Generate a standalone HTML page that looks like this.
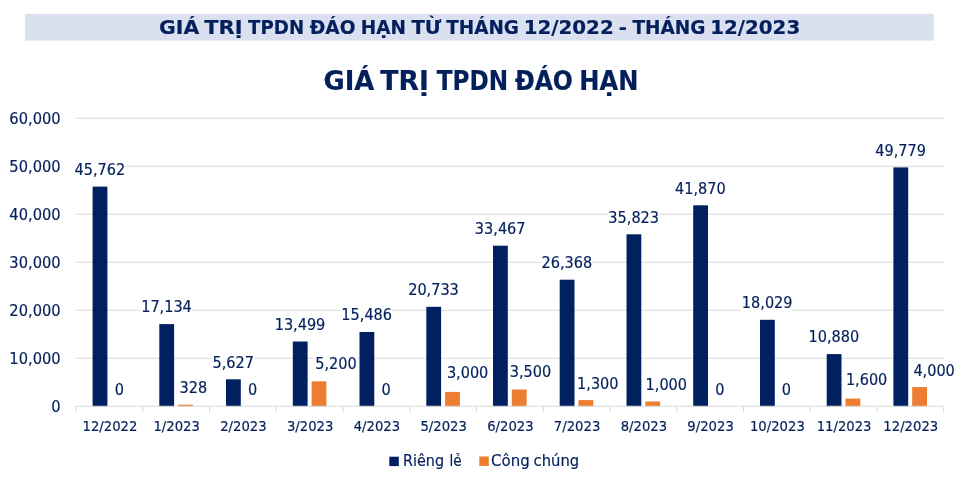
<!DOCTYPE html>
<html lang="vi">
<head>
<meta charset="utf-8">
<title>Giá trị TPDN đáo hạn</title>
<style>
html,body{margin:0;padding:0;background:#fff;}
body{width:965px;height:484px;overflow:hidden;}
svg{display:block;will-change:transform;}
text{font-family:"DejaVu Sans Condensed", "Liberation Sans", sans-serif;fill:#04205c;stroke:#04205c;stroke-width:0.18px;}
.b{font-weight:bold;stroke-width:0.3px;}
</style>
</head>
<body>
<svg width="965" height="484" viewBox="0 0 965 484">
<rect x="0" y="0" width="965" height="484" fill="#ffffff"/>
<rect x="24.9" y="13.9" width="909" height="26.7" fill="#dbe0f0"/>
<g class="b" font-size="19.5">
<text x="159.1" y="33.8" textLength="40.2" lengthAdjust="spacingAndGlyphs">GIÁ</text>
<text x="204.3" y="33.8" textLength="38.3" lengthAdjust="spacingAndGlyphs">TRỊ</text>
<text x="248.1" y="33.8" textLength="56.0" lengthAdjust="spacingAndGlyphs">TPDN</text>
<text x="309.8" y="33.8" textLength="45.7" lengthAdjust="spacingAndGlyphs">ĐÁO</text>
<text x="360.8" y="33.8" textLength="45.2" lengthAdjust="spacingAndGlyphs">HẠN</text>
<text x="411.4" y="33.8" textLength="29.8" lengthAdjust="spacingAndGlyphs">TỪ</text>
<text x="446.2" y="33.8" textLength="72.7" lengthAdjust="spacingAndGlyphs">THÁNG</text>
<text x="523.7" y="33.8" textLength="90.0" lengthAdjust="spacingAndGlyphs">12/2022</text>
<text x="618.8" y="33.8" textLength="8.2" lengthAdjust="spacingAndGlyphs">-</text>
<text x="632.5" y="33.8" textLength="73.0" lengthAdjust="spacingAndGlyphs">THÁNG</text>
<text x="710.2" y="33.8" textLength="90.0" lengthAdjust="spacingAndGlyphs">12/2023</text>
</g>
<g class="b" font-size="25.7">
<text x="323.4" y="89.8" textLength="50.9" lengthAdjust="spacingAndGlyphs">GIÁ</text>
<text x="380.3" y="89.8" textLength="48.5" lengthAdjust="spacingAndGlyphs">TRỊ</text>
<text x="436.8" y="89.8" textLength="71.4" lengthAdjust="spacingAndGlyphs">TPDN</text>
<text x="514.9" y="89.8" textLength="58.0" lengthAdjust="spacingAndGlyphs">ĐÁO</text>
<text x="579.3" y="89.8" textLength="59.1" lengthAdjust="spacingAndGlyphs">HẠN</text>
</g>
<line x1="76.1" y1="358.3" x2="943.7" y2="358.3" stroke="#d9d9d9" stroke-width="1.1"/>
<line x1="76.1" y1="310.3" x2="943.7" y2="310.3" stroke="#d9d9d9" stroke-width="1.1"/>
<line x1="76.1" y1="262.3" x2="943.7" y2="262.3" stroke="#d9d9d9" stroke-width="1.1"/>
<line x1="76.1" y1="214.3" x2="943.7" y2="214.3" stroke="#d9d9d9" stroke-width="1.1"/>
<line x1="76.1" y1="166.3" x2="943.7" y2="166.3" stroke="#d9d9d9" stroke-width="1.1"/>
<line x1="76.1" y1="118.3" x2="943.7" y2="118.3" stroke="#d9d9d9" stroke-width="1.1"/>
<text x="60.6" y="412.2" font-size="16.3" text-anchor="end">0</text>
<text x="60.6" y="364.2" font-size="16.3" text-anchor="end">10,000</text>
<text x="60.6" y="316.2" font-size="16.3" text-anchor="end">20,000</text>
<text x="60.6" y="268.2" font-size="16.3" text-anchor="end">30,000</text>
<text x="60.6" y="220.2" font-size="16.3" text-anchor="end">40,000</text>
<text x="60.6" y="172.2" font-size="16.3" text-anchor="end">50,000</text>
<text x="60.6" y="124.2" font-size="16.3" text-anchor="end">60,000</text>
<rect x="92.6" y="186.6" width="14.8" height="219.7" fill="#002060"/>
<rect x="159.3" y="324.1" width="14.8" height="82.2" fill="#002060"/>
<rect x="178.1" y="404.7" width="14.8" height="1.6" fill="#ed7d31"/>
<rect x="226.0" y="379.3" width="14.8" height="27.0" fill="#002060"/>
<rect x="292.8" y="341.5" width="14.8" height="64.8" fill="#002060"/>
<rect x="311.6" y="381.3" width="14.8" height="25.0" fill="#ed7d31"/>
<rect x="359.5" y="332.0" width="14.8" height="74.3" fill="#002060"/>
<rect x="426.3" y="306.8" width="14.8" height="99.5" fill="#002060"/>
<rect x="445.1" y="391.9" width="14.8" height="14.4" fill="#ed7d31"/>
<rect x="493.0" y="245.7" width="14.8" height="160.6" fill="#002060"/>
<rect x="511.8" y="389.5" width="14.8" height="16.8" fill="#ed7d31"/>
<rect x="559.7" y="279.7" width="14.8" height="126.6" fill="#002060"/>
<rect x="578.5" y="400.1" width="14.8" height="6.2" fill="#ed7d31"/>
<rect x="626.5" y="234.3" width="14.8" height="172.0" fill="#002060"/>
<rect x="645.3" y="401.5" width="14.8" height="4.8" fill="#ed7d31"/>
<rect x="693.2" y="205.3" width="14.8" height="201.0" fill="#002060"/>
<rect x="760.0" y="319.8" width="14.8" height="86.5" fill="#002060"/>
<rect x="826.7" y="354.1" width="14.8" height="52.2" fill="#002060"/>
<rect x="845.5" y="398.6" width="14.8" height="7.7" fill="#ed7d31"/>
<rect x="893.4" y="167.4" width="14.8" height="238.9" fill="#002060"/>
<rect x="912.2" y="387.1" width="14.8" height="19.2" fill="#ed7d31"/>
<line x1="76.1" y1="406.3" x2="943.7" y2="406.3" stroke="#d9d9d9" stroke-width="1.1"/>
<line x1="76.1" y1="406.3" x2="76.1" y2="411.9" stroke="#d9d9d9" stroke-width="1.1"/>
<line x1="142.8" y1="406.3" x2="142.8" y2="411.9" stroke="#d9d9d9" stroke-width="1.1"/>
<line x1="209.6" y1="406.3" x2="209.6" y2="411.9" stroke="#d9d9d9" stroke-width="1.1"/>
<line x1="276.3" y1="406.3" x2="276.3" y2="411.9" stroke="#d9d9d9" stroke-width="1.1"/>
<line x1="343.1" y1="406.3" x2="343.1" y2="411.9" stroke="#d9d9d9" stroke-width="1.1"/>
<line x1="409.8" y1="406.3" x2="409.8" y2="411.9" stroke="#d9d9d9" stroke-width="1.1"/>
<line x1="476.5" y1="406.3" x2="476.5" y2="411.9" stroke="#d9d9d9" stroke-width="1.1"/>
<line x1="543.3" y1="406.3" x2="543.3" y2="411.9" stroke="#d9d9d9" stroke-width="1.1"/>
<line x1="610.0" y1="406.3" x2="610.0" y2="411.9" stroke="#d9d9d9" stroke-width="1.1"/>
<line x1="676.7" y1="406.3" x2="676.7" y2="411.9" stroke="#d9d9d9" stroke-width="1.1"/>
<line x1="743.5" y1="406.3" x2="743.5" y2="411.9" stroke="#d9d9d9" stroke-width="1.1"/>
<line x1="810.2" y1="406.3" x2="810.2" y2="411.9" stroke="#d9d9d9" stroke-width="1.1"/>
<line x1="877.0" y1="406.3" x2="877.0" y2="411.9" stroke="#d9d9d9" stroke-width="1.1"/>
<line x1="943.7" y1="406.3" x2="943.7" y2="411.9" stroke="#d9d9d9" stroke-width="1.1"/>
<text x="110.0" y="431.0" font-size="14.7" text-anchor="middle">12/2022</text>
<text x="176.7" y="431.0" font-size="14.7" text-anchor="middle">1/2023</text>
<text x="243.4" y="431.0" font-size="14.7" text-anchor="middle">2/2023</text>
<text x="310.2" y="431.0" font-size="14.7" text-anchor="middle">3/2023</text>
<text x="376.9" y="431.0" font-size="14.7" text-anchor="middle">4/2023</text>
<text x="443.7" y="431.0" font-size="14.7" text-anchor="middle">5/2023</text>
<text x="510.4" y="431.0" font-size="14.7" text-anchor="middle">6/2023</text>
<text x="577.1" y="431.0" font-size="14.7" text-anchor="middle">7/2023</text>
<text x="643.9" y="431.0" font-size="14.7" text-anchor="middle">8/2023</text>
<text x="710.6" y="431.0" font-size="14.7" text-anchor="middle">9/2023</text>
<text x="777.4" y="431.0" font-size="14.7" text-anchor="middle">10/2023</text>
<text x="844.1" y="431.0" font-size="14.7" text-anchor="middle">11/2023</text>
<text x="910.8" y="431.0" font-size="14.7" text-anchor="middle">12/2023</text>
<rect x="73.5" y="160.3" width="51.8" height="18.0" fill="#ffffff"/>
<text x="99.8" y="174.8" font-size="16.1" text-anchor="middle">45,762</text>
<rect x="113.9" y="380.1" width="10.2" height="18.0" fill="#ffffff"/>
<text x="119.3" y="394.6" font-size="16.1" text-anchor="middle">0</text>
<rect x="140.3" y="297.8" width="51.8" height="18.0" fill="#ffffff"/>
<text x="166.5" y="312.3" font-size="16.1" text-anchor="middle">17,134</text>
<rect x="178.6" y="378.0" width="28.7" height="18.0" fill="#ffffff"/>
<text x="193.3" y="392.5" font-size="16.1" text-anchor="middle">328</text>
<rect x="211.6" y="353.0" width="42.6" height="18.0" fill="#ffffff"/>
<text x="233.2" y="367.5" font-size="16.1" text-anchor="middle">5,627</text>
<rect x="247.3" y="380.1" width="10.2" height="18.0" fill="#ffffff"/>
<text x="252.7" y="394.6" font-size="16.1" text-anchor="middle">0</text>
<rect x="273.8" y="315.2" width="51.8" height="18.0" fill="#ffffff"/>
<text x="300.0" y="329.7" font-size="16.1" text-anchor="middle">13,499</text>
<rect x="314.3" y="354.9" width="42.6" height="18.0" fill="#ffffff"/>
<text x="335.9" y="369.4" font-size="16.1" text-anchor="middle">5,200</text>
<rect x="340.5" y="305.7" width="51.8" height="18.0" fill="#ffffff"/>
<text x="366.7" y="320.2" font-size="16.1" text-anchor="middle">15,486</text>
<rect x="380.6" y="380.1" width="10.2" height="18.0" fill="#ffffff"/>
<text x="386.0" y="394.6" font-size="16.1" text-anchor="middle">0</text>
<rect x="407.2" y="280.5" width="51.8" height="18.0" fill="#ffffff"/>
<text x="433.5" y="295.0" font-size="16.1" text-anchor="middle">20,733</text>
<rect x="446.0" y="363.9" width="42.6" height="18.0" fill="#ffffff"/>
<text x="467.6" y="378.4" font-size="16.1" text-anchor="middle">3,000</text>
<rect x="474.0" y="219.4" width="51.8" height="18.0" fill="#ffffff"/>
<text x="500.2" y="233.9" font-size="16.1" text-anchor="middle">33,467</text>
<rect x="508.9" y="362.9" width="42.6" height="18.0" fill="#ffffff"/>
<text x="530.5" y="377.4" font-size="16.1" text-anchor="middle">3,500</text>
<rect x="540.7" y="253.4" width="51.8" height="18.0" fill="#ffffff"/>
<text x="566.9" y="267.9" font-size="16.1" text-anchor="middle">26,368</text>
<rect x="576.2" y="374.3" width="42.6" height="18.0" fill="#ffffff"/>
<text x="597.8" y="388.8" font-size="16.1" text-anchor="middle">1,300</text>
<rect x="607.5" y="208.0" width="51.8" height="18.0" fill="#ffffff"/>
<text x="633.7" y="222.5" font-size="16.1" text-anchor="middle">35,823</text>
<rect x="644.7" y="375.1" width="42.6" height="18.0" fill="#ffffff"/>
<text x="666.3" y="389.6" font-size="16.1" text-anchor="middle">1,000</text>
<rect x="674.2" y="179.0" width="51.8" height="18.0" fill="#ffffff"/>
<text x="700.4" y="193.5" font-size="16.1" text-anchor="middle">41,870</text>
<rect x="714.5" y="380.1" width="10.2" height="18.0" fill="#ffffff"/>
<text x="719.9" y="394.6" font-size="16.1" text-anchor="middle">0</text>
<rect x="740.9" y="293.5" width="51.8" height="18.0" fill="#ffffff"/>
<text x="767.2" y="308.0" font-size="16.1" text-anchor="middle">18,029</text>
<rect x="780.9" y="380.1" width="10.2" height="18.0" fill="#ffffff"/>
<text x="786.3" y="394.6" font-size="16.1" text-anchor="middle">0</text>
<rect x="807.7" y="327.8" width="51.8" height="18.0" fill="#ffffff"/>
<text x="833.9" y="342.3" font-size="16.1" text-anchor="middle">10,880</text>
<rect x="845.0" y="370.1" width="42.6" height="18.0" fill="#ffffff"/>
<text x="866.6" y="384.6" font-size="16.1" text-anchor="middle">1,600</text>
<rect x="874.4" y="141.1" width="51.8" height="18.0" fill="#ffffff"/>
<text x="900.6" y="155.6" font-size="16.1" text-anchor="middle">49,779</text>
<rect x="912.5" y="361.0" width="42.6" height="18.0" fill="#ffffff"/>
<text x="934.1" y="375.5" font-size="16.1" text-anchor="middle">4,000</text>
<rect x="389.3" y="456.7" width="9.5" height="9.4" fill="#002060"/>
<rect x="479.3" y="456.5" width="9.5" height="9.4" fill="#ed7d31"/>
<g font-size="15.6">
<text x="403.0" y="466.4" textLength="41.0" lengthAdjust="spacingAndGlyphs">Riêng</text>
<text x="449.4" y="466.4" textLength="12.2" lengthAdjust="spacingAndGlyphs">lẻ</text>
<text x="491.1" y="466.4" textLength="38.6" lengthAdjust="spacingAndGlyphs">Công</text>
<text x="533.6" y="466.4" textLength="45.6" lengthAdjust="spacingAndGlyphs">chúng</text>
</g>
</svg>
</body>
</html>
